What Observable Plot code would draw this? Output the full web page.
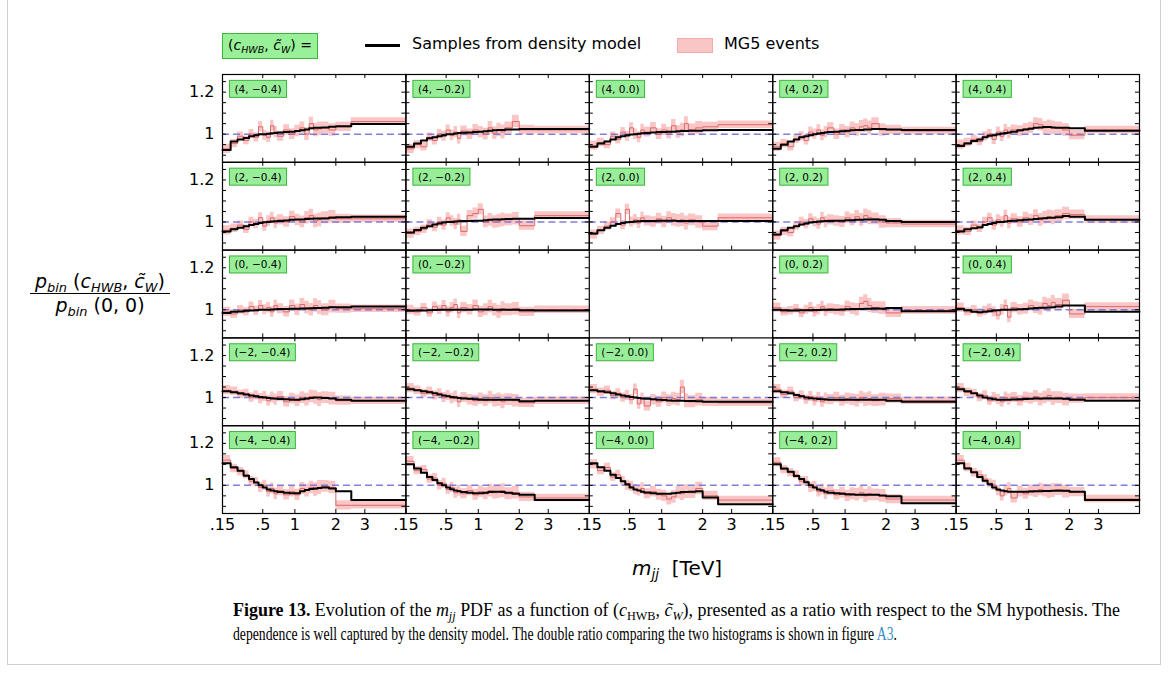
<!DOCTYPE html>
<html><head><meta charset="utf-8">
<script src="https://cdn.jsdelivr.net/npm/d3@7"></script>
<script src="https://cdn.jsdelivr.net/npm/@observablehq/plot@0.6"></script>
<style>
body{margin:0;background:#fff;}
#page{position:relative;width:1170px;height:675px;overflow:hidden;font-family:"DejaVu Sans",sans-serif;color:#000;}
#frame{position:absolute;left:7px;top:-5px;width:1152px;height:668px;border:1px solid #cfcfcf;}
#chart{position:absolute;left:0;top:60px;}
.abs{position:absolute;white-space:nowrap;}
sub{font-size:0.68em;vertical-align:baseline;position:relative;top:0.32em;}
#legbox{left:222px;top:33px;height:24px;line-height:23px;padding:0 5px;border:1px solid #3cb43c;background:#98f098;font-size:14px;}
#legline{left:365px;top:44px;width:35px;height:2.5px;background:#000;}
#legtxt1{left:412px;top:34px;font-size:16px;}
#legpatch{left:677px;top:38px;width:34px;height:13px;background:#f9c6c6;border:1px solid #f3aaaa;}
#legtxt2{left:724px;top:34px;font-size:16px;}
#ylab{left:30px;top:270px;width:140px;text-align:center;font-size:19px;}
#ylab .num{border-bottom:1.6px solid #000;padding-bottom:1px;}
#xlab{left:632px;top:556px;font-size:20px;}
.cap{font-family:"Liberation Serif",serif;font-size:18.5px;transform-origin:0 0;}
#cap1{left:233px;top:600px;}
#cap2{left:233px;top:624px;}
.lnk{color:#3b8fc4;}
</style></head>
<body><div id="page">
<div id="frame"></div>
<div class="abs" id="legbox">(<i>c</i><sub><i>HWB</i></sub>, <i>c̃</i><sub><i>W</i></sub>) =</div>
<div class="abs" id="legline"></div>
<div class="abs" id="legtxt1">Samples from density model</div>
<div class="abs" id="legpatch"></div>
<div class="abs" id="legtxt2">MG5 events</div>
<div class="abs" id="ylab"><div class="num"><i>p</i><sub><i>bin</i></sub> (<i>c</i><sub><i>HWB</i></sub>, <i>c̃</i><sub><i>W</i></sub>)</div><div class="den"><i>p</i><sub><i>bin</i></sub> (0, 0)</div></div>
<div id="chart"></div>
<div class="abs" id="xlab"><i>m</i><sub><i>jj</i></sub>&nbsp;&nbsp;[TeV]</div>
<div class="abs cap" id="cap1"><b>Figure 13.</b> Evolution of the <i>m</i><sub><i>jj</i></sub> PDF as a function of (<i>c</i><sub>HWB</sub>, <i>c̃</i><sub><i>W</i></sub>), presented as a ratio with respect to the SM hypothesis. The</div>
<div class="abs cap" id="cap2">dependence is well captured by the density model. The double ratio comparing the two histograms is shown in figure <span class="lnk">A3</span>.</div>
</div>
<script>
// ---------------- data ----------------
const mjjEdges = [0.15,0.2,0.25,0.3,0.35,0.4,0.45,0.5,0.55,0.6,0.65,0.7,0.8,0.9,1.0,1.1,1.2,1.3,1.4,1.5,1.6,1.8,2.0,2.5,4.9];
const cHWBValues = [4, 2, 0, -2, -4];
const cWValues = [-0.4, -0.2, 0.0, 0.2, 0.4];
const xTickValues = [0.15, 0.5, 1, 2, 3];
const xTickLabels = [".15", ".5", "1", "2", "3"];
const yTickValues = [1, 1.2];
const yTickLabels = ["1", "1.2"];
const yMinorTicks = [0.9, 0.95, 1.0, 1.05, 1.1, 1.15, 1.2, 1.25];
const mg5Err = [0.022,0.02,0.02,0.02,0.022,0.022,0.024,0.024,0.025,0.026,0.027,0.024,0.025,0.026,0.027,0.028,0.03,0.03,0.032,0.033,0.028,0.03,0.022,0.018];

// c_HWB = 4
const modelC4 = [
 [0.925,0.965,0.975,0.982,0.99,0.995,1.0,1.0,1.002,1.004,1.006,1.008,1.01,1.012,1.015,1.018,1.022,1.028,1.03,1.03,1.032,1.035,1.038,1.048],
 [0.94,0.955,0.97,0.98,0.985,0.99,0.995,1.0,1.0,1.003,1.005,1.007,1.008,1.01,1.012,1.014,1.016,1.018,1.02,1.02,1.022,1.022,1.025,1.025],
 [0.94,0.955,0.965,0.975,0.985,0.99,0.995,0.998,1.0,1.002,1.004,1.006,1.008,1.01,1.01,1.012,1.012,1.014,1.015,1.015,1.016,1.016,1.018,1.02],
 [0.93,0.95,0.965,0.975,0.985,0.99,0.995,1.0,1.003,1.005,1.008,1.01,1.012,1.014,1.016,1.018,1.02,1.02,1.022,1.022,1.024,1.024,1.022,1.02],
 [0.944,0.955,0.968,0.975,0.985,0.992,0.995,1.0,1.003,1.005,1.008,1.012,1.018,1.022,1.026,1.03,1.032,1.034,1.034,1.032,1.03,1.03,1.028,1.016]
];
const mg5C4 = [
 [0.93,0.955,0.99,0.97,1.0,0.985,1.035,0.995,0.985,1.04,1.01,0.99,1.02,1.0,1.015,1.03,1.0,1.05,1.02,1.025,1.03,1.02,1.035,1.06],
 [0.93,0.95,0.94,0.985,0.97,1.0,0.99,1.02,0.995,1.01,0.98,1.015,1.0,1.02,1.01,1.0,1.03,1.005,1.02,1.01,1.03,1.06,1.02,1.02],
 [0.945,0.96,0.95,0.99,0.975,1.01,0.99,1.03,1.0,0.985,1.02,1.01,1.03,1.0,1.02,1.005,1.04,1.01,1.02,1.05,1.02,1.03,1.035,1.045],
 [0.94,0.955,0.94,0.975,0.99,0.97,1.01,1.0,1.02,0.995,1.01,1.03,1.0,1.02,1.01,1.03,1.02,1.035,1.04,1.03,1.05,1.02,1.02,1.015],
 [0.95,0.96,0.975,0.965,0.99,1.0,0.975,1.01,0.99,1.02,1.005,1.02,1.015,1.025,1.03,1.05,1.045,1.03,1.035,1.03,1.03,1.02,0.995,1.02]
];
// c_HWB = 2
const modelC2 = [
 [0.955,0.965,0.972,0.98,0.985,0.99,0.995,0.998,1.0,1.002,1.003,1.005,1.007,1.01,1.012,1.012,1.014,1.015,1.016,1.016,1.016,1.02,1.022,1.025],
 [0.95,0.962,0.972,0.98,0.988,0.993,0.997,1.0,1.0,1.002,1.003,1.004,1.005,1.006,1.006,1.008,1.01,1.012,1.012,1.013,1.014,1.015,1.015,1.019],
 [0.945,0.96,0.972,0.982,0.99,0.995,0.998,1.0,1.002,1.003,1.004,1.005,1.005,1.006,1.006,1.006,1.006,1.005,1.005,1.005,1.005,1.005,1.004,1.005],
 [0.94,0.96,0.972,0.98,0.988,0.993,0.997,1.0,1.002,1.003,1.004,1.005,1.006,1.006,1.008,1.008,1.01,1.01,1.012,1.012,1.012,1.01,1.005,1.0],
 [0.955,0.965,0.97,0.975,0.985,0.99,0.995,1.0,1.0,1.002,1.004,1.006,1.008,1.01,1.012,1.014,1.016,1.018,1.02,1.02,1.022,1.028,1.025,1.01]
];
const mg5C2 = [
 [0.96,0.97,0.985,0.965,1.0,0.99,1.02,0.98,1.005,1.02,0.995,1.01,1.0,1.025,1.01,1.0,1.02,1.03,1.005,1.01,1.02,1.025,1.015,1.015],
 [0.945,0.955,0.965,0.99,0.975,1.0,0.985,1.02,1.005,0.99,1.01,0.955,1.03,1.04,1.06,1.0,1.01,1.0,1.005,1.01,1.01,1.015,0.982,1.03],
 [0.94,0.96,0.98,1.0,1.04,0.985,1.06,1.0,1.01,0.995,1.02,1.005,1.0,1.015,1.0,1.02,1.01,1.005,1.01,0.995,1.01,1.0,0.98,1.02],
 [0.935,0.955,0.95,0.98,1.0,0.99,1.015,1.0,0.99,1.02,1.0,1.01,1.005,1.0,1.02,1.01,1.025,1.01,1.03,1.02,1.015,1.0,0.995,0.99],
 [0.96,0.955,0.985,0.97,1.0,1.02,0.985,1.01,1.0,1.03,0.995,1.015,1.0,1.02,1.01,1.03,1.01,1.02,1.025,1.02,1.03,1.04,1.035,1.012]
];
// c_HWB = 0 (the SM point itself is not drawn)
const modelC0 = [
 [0.985,0.99,0.992,0.995,0.997,0.998,1.0,1.0,1.0,1.001,1.002,1.003,1.004,1.005,1.005,1.006,1.006,1.007,1.008,1.008,1.01,1.012,1.012,1.015],
 [0.995,0.996,0.997,0.998,0.999,1.0,1.0,1.0,1.0,1.0,1.0,1.0,1.0,1.001,1.001,1.001,1.001,1.0,1.0,1.0,1.0,1.0,0.998,0.997],
 null,
 [1.0,0.998,0.997,0.997,0.998,0.998,0.998,0.999,0.999,1.0,1.0,1.0,1.0,1.001,1.002,1.003,1.004,1.004,1.005,1.005,1.006,1.005,1.008,0.993],
 [1.004,0.998,0.99,0.988,0.99,0.993,0.996,0.998,1.0,1.0,1.0,1.001,1.002,1.004,1.006,1.008,1.01,1.01,1.011,1.012,1.015,1.02,1.02,0.99]
];
const mg5C0 = [
 [0.99,0.98,1.0,0.99,1.015,0.995,1.02,1.0,1.01,0.99,1.02,1.005,0.99,1.02,1.0,1.025,1.01,1.0,1.02,1.01,1.0,1.015,1.005,1.005],
 [1.0,0.99,1.01,0.985,1.015,1.0,1.02,0.99,1.01,1.025,0.985,1.01,1.0,1.02,0.99,1.0,1.015,1.0,0.99,1.005,1.0,1.005,0.99,1.0],
 null,
 [1.01,0.99,0.995,1.005,0.985,1.0,1.01,0.99,1.0,1.015,0.995,1.005,1.0,0.995,1.015,1.005,1.0,1.03,1.04,1.02,1.01,1.008,0.985,0.997],
 [1.01,0.99,1.0,0.985,0.995,1.005,0.99,0.975,1.0,1.02,0.965,1.01,1.0,1.005,1.02,1.01,1.005,1.03,1.02,1.035,1.025,1.045,0.98,1.015]
];
// c_HWB = -2
const modelCm2 = [
 [1.03,1.025,1.02,1.015,1.01,1.006,1.003,1.0,0.998,0.996,0.995,0.993,0.992,0.99,0.99,0.992,0.995,0.998,1.0,1.0,0.998,0.995,0.99,0.985],
 [1.04,1.035,1.03,1.025,1.02,1.015,1.01,1.006,1.003,1.0,0.998,0.996,0.994,0.992,0.99,0.99,0.99,0.99,0.99,0.99,0.99,0.99,0.982,0.985],
 [1.035,1.03,1.025,1.02,1.015,1.01,1.006,1.003,1.0,0.998,0.996,0.994,0.992,0.99,0.988,0.986,0.985,0.985,0.985,0.984,0.983,0.982,0.98,0.98],
 [1.03,1.025,1.02,1.012,1.006,1.0,0.997,0.995,0.993,0.992,0.991,0.99,0.99,0.99,0.99,0.99,0.99,0.99,0.99,0.99,0.99,0.99,0.985,0.98],
 [1.04,1.03,1.02,1.01,1.0,0.995,0.992,0.99,0.99,0.99,0.99,0.991,0.992,0.993,0.994,0.995,0.996,0.996,0.996,0.995,0.995,0.994,0.99,0.985]
];
const mg5Cm2 = [
 [1.035,1.03,1.015,1.02,1.0,1.01,0.995,1.005,0.985,1.0,0.99,1.005,0.98,0.995,0.985,1.0,0.99,1.005,1.0,0.99,1.0,0.995,0.985,0.985],
 [1.045,1.035,1.02,1.03,1.01,1.02,1.0,1.01,0.995,1.005,0.98,1.0,0.99,0.985,0.995,0.985,1.0,0.985,0.99,0.98,0.99,0.985,0.975,0.985],
 [1.04,1.025,1.035,1.01,1.02,1.0,1.01,0.99,1.04,0.97,0.995,0.96,0.99,0.98,1.0,0.985,0.995,0.99,1.05,0.985,0.98,0.99,0.98,0.975],
 [1.04,1.015,1.03,1.0,1.01,0.99,1.005,0.985,1.0,0.98,0.995,0.99,1.0,0.985,0.995,0.99,0.985,1.0,0.99,0.995,0.985,0.99,0.995,0.985],
 [1.045,1.025,1.02,1.0,1.01,0.985,1.0,0.99,0.98,1.0,0.99,1.0,0.985,1.0,0.995,1.005,0.99,1.0,1.01,0.995,1.0,0.99,0.995,1.0]
];
// c_HWB = -4
const modelCm4 = [
 [1.105,1.086,1.07,1.046,1.03,1.013,1.0,0.99,0.98,0.975,0.972,0.968,0.965,0.962,0.962,0.972,0.978,0.983,0.985,0.987,0.99,0.985,0.972,0.93],
 [1.1,1.08,1.06,1.04,1.025,1.01,1.0,0.99,0.982,0.976,0.972,0.968,0.965,0.963,0.962,0.965,0.968,0.97,0.97,0.968,0.965,0.96,0.955,0.93],
 [1.105,1.086,1.07,1.05,1.035,1.02,1.005,0.99,0.98,0.975,0.97,0.966,0.962,0.96,0.96,0.96,0.962,0.965,0.968,0.968,0.97,0.972,0.942,0.91],
 [1.1,1.08,1.065,1.045,1.03,1.015,1.0,0.99,0.98,0.975,0.97,0.965,0.962,0.96,0.958,0.956,0.955,0.955,0.955,0.955,0.955,0.952,0.948,0.915],
 [1.105,1.08,1.062,1.04,1.022,1.005,0.99,0.98,0.975,0.972,0.97,0.97,0.97,0.97,0.971,0.972,0.972,0.973,0.973,0.974,0.974,0.974,0.97,0.93]
];
const mg5Cm4 = [
 [1.12,1.08,1.065,1.05,1.02,1.015,0.99,1.0,0.97,0.985,0.96,0.975,0.955,0.97,0.955,0.985,0.975,0.99,0.98,0.99,0.995,0.99,0.905,0.905],
 [1.115,1.07,1.075,1.03,1.035,1.0,1.01,0.98,0.99,0.965,0.975,0.96,0.975,0.955,0.97,0.96,0.975,0.965,0.97,0.975,0.96,0.965,0.945,0.94],
 [1.1,1.07,1.085,1.04,1.05,1.02,1.0,0.995,0.98,0.975,0.985,0.96,0.97,0.955,0.95,0.935,0.945,0.965,0.96,0.97,0.965,0.985,0.95,0.93],
 [1.11,1.075,1.06,1.05,1.02,1.02,0.99,0.995,0.97,0.98,0.96,0.975,0.955,0.965,0.95,0.96,0.955,0.965,0.95,0.96,0.955,0.95,0.935,0.93],
 [1.12,1.085,1.06,1.05,1.03,1.01,1.0,0.975,0.95,0.975,0.985,0.94,0.97,0.96,0.975,0.97,0.98,0.975,0.97,0.975,0.98,0.97,0.968,0.935]
];

// ---------------- build tables ----------------
const modelRows = [modelC4, modelC2, modelC0, modelCm2, modelCm4];
const mg5Rows = [mg5C4, mg5C2, mg5C0, mg5Cm2, mg5Cm4];
const minus = "\u2212";
const fmtC = v => (v < 0 ? minus : "") + Math.abs(v);
const fmtW = v => (v < 0 ? minus : "") + Math.abs(v).toFixed(1);

const panels = [], modelPts = [], mg5Pts = [];
cHWBValues.forEach((c, i) => cWValues.forEach((w, j) => {
  const m = modelRows[i][j];
  if (!m) return;
  const g = mg5Rows[i][j];
  const fy = fmtC(c), fx = fmtW(w), key = fy + "|" + fx;
  panels.push({fx, fy, label: `(${fy}, ${fx})`});
  m.forEach((v, k) => modelPts.push({fx, fy, key, x: mjjEdges[k], y: v}));
  modelPts.push({fx, fy, key, x: mjjEdges[m.length], y: m[m.length - 1]});
  g.forEach((v, k) => mg5Pts.push({fx, fy, key, x: mjjEdges[k], y: v, lo: v - mg5Err[k], hi: v + mg5Err[k]}));
  const L = g.length - 1;
  mg5Pts.push({fx, fy, key, x: mjjEdges[g.length], y: g[L], lo: g[L] - mg5Err[L], hi: g[L] + mg5Err[L]});
}));

// ---------------- plot ----------------
const W = 1170, H = 480, ML = 222, MR = 31, MT = 14, MB = 27;
const PW = (W - ML - MR) / 5, PH = (H - MT - MB) / 5;

const chart = Plot.plot({
  width: W, height: H,
  marginLeft: ML, marginRight: MR, marginTop: MT, marginBottom: MB,
  style: {fontFamily: "DejaVu Sans", background: "transparent", color: "black", overflow: "visible"},
  x: {type: "pow", exponent: 0.35, domain: [0.15, 4.9]},
  y: {domain: [0.866, 1.284]},
  fx: {domain: cWValues.map(fmtW), padding: 0, round: false, axis: null},
  fy: {domain: cHWBValues.map(fmtC), padding: 0, round: false, axis: null},
  marks: [
    Plot.areaY(mg5Pts, {x: "x", y1: "lo", y2: "hi", z: "key", fx: "fx", fy: "fy", curve: "step-after", fill: "#f7aeae", fillOpacity: 0.72}),
    Plot.ruleY([1], {stroke: "#6a6ad6", strokeWidth: 1.5, strokeDasharray: "7,4", strokeOpacity: 0.85}),
    Plot.line(mg5Pts, {x: "x", y: "y", z: "key", fx: "fx", fy: "fy", curve: "step-after", stroke: "#dc6a6a", strokeWidth: 1}),
    Plot.line(modelPts, {x: "x", y: "y", z: "key", fx: "fx", fy: "fy", curve: "step-after", stroke: "#000", strokeWidth: 2}),
    Plot.tickY(yMinorTicks, {y: d => d, insetRight: PW - 4, stroke: "#000"}),
    Plot.tickY(yMinorTicks, {y: d => d, insetLeft: PW - 4, stroke: "#000"}),
    Plot.tickX(xTickValues, {x: d => d, insetBottom: PH - 4, stroke: "#000"}),
    Plot.tickX(xTickValues, {x: d => d, insetTop: PH - 4, stroke: "#000"}),
    Plot.frame({stroke: "#000", strokeWidth: 1.2}),
    Plot.text(panels, {fx: "fx", fy: "fy", text: "label", frameAnchor: "top-left", dx: 12, dy: 15,
      textAnchor: "start", lineAnchor: "middle", fontSize: 10.5}),
    Plot.axisY(yTickValues, {anchor: "left", facetAnchor: "left", tickSize: 0, tickPadding: 8, fontSize: 16,
      tickFormat: d => yTickLabels[yTickValues.indexOf(d)], label: null}),
    Plot.axisX(xTickValues, {anchor: "bottom", facetAnchor: "bottom", tickSize: 0, tickPadding: 5, fontSize: 16,
      tickFormat: d => xTickLabels[xTickValues.indexOf(d)], label: null})
  ]
});
document.getElementById("chart").appendChild(chart);

// green boxes behind the panel labels (the only plain "text" mark in the chart)
const NS = "http://www.w3.org/2000/svg";
chart.querySelectorAll('g[aria-label="text"] text').forEach(t => {
  const b = t.getBBox();
  const r = document.createElementNS(NS, "rect");
  r.setAttribute("x", b.x - 5); r.setAttribute("y", b.y - 2.5);
  r.setAttribute("width", b.width + 10); r.setAttribute("height", b.height + 5);
  r.setAttribute("fill", "#98ee98"); r.setAttribute("stroke", "#3cb43c"); r.setAttribute("stroke-width", 1);
  if (t.getAttribute("transform")) r.setAttribute("transform", t.getAttribute("transform"));
  t.parentNode.insertBefore(r, t);
});

// caption: each line fitted to its extent in the reference
const cap1 = document.getElementById("cap1"), cap2 = document.getElementById("cap2");
const s1 = 887 / cap1.getBoundingClientRect().width;
const s2 = 664 / cap2.getBoundingClientRect().width;
cap1.style.transform = `scaleX(${s1})`;
cap2.style.transform = `scaleX(${s2})`;
</script>
</body></html>
